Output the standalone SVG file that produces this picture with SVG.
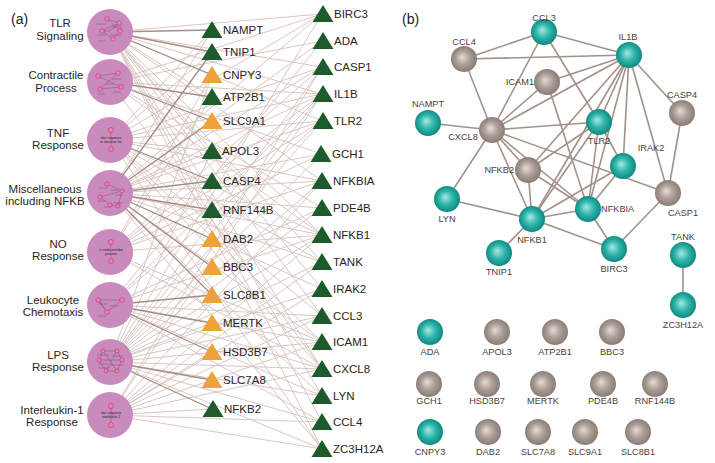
<svg xmlns="http://www.w3.org/2000/svg" width="715" height="463" viewBox="0 0 715 463">
<style>
.lt{stroke:#d9c6c1;stroke-width:1;fill:none}
.dk{stroke:#a58d85;stroke-width:1.3;fill:none}
.pb{stroke:#a3918a;stroke-width:1.6;fill:none}
.pw{fill:#c98bbc}
.mini{stroke:#3a2a30;stroke-width:0.35;fill:none;opacity:0.8}
.mt{stroke:#3a2a30;stroke-width:0.8;opacity:0.35}
.dot{fill:#f27db4;stroke:#c2316f;stroke-width:0.6}
.gr{fill:#1d5b2d}
.or{fill:#eea23b}
.la{font-family:"Liberation Sans",Arial,sans-serif;font-size:11.5px;fill:#2b2422}
.lc{font-family:"Liberation Sans",Arial,sans-serif;font-size:11.5px;fill:#2b2422;text-anchor:middle}
.lb{font-family:"Liberation Sans",Arial,sans-serif;font-size:9.2px;fill:#4d403b;text-anchor:middle}
.tiny{font-family:"Liberation Sans",Arial,sans-serif;font-size:3.4px;fill:#2a2024;text-anchor:middle}
.pn{font-family:"Liberation Sans",Arial,sans-serif;font-size:14px;fill:#222}
</style>
<defs>
<radialGradient id="gT" cx="0.5" cy="0.5" r="0.55" fx="0.42" fy="0.42">
<stop offset="0" stop-color="#a8e9e3"/><stop offset="0.5" stop-color="#2db4a9"/><stop offset="1" stop-color="#0a8177"/>
</radialGradient>
<radialGradient id="gG" cx="0.5" cy="0.5" r="0.55" fx="0.42" fy="0.42">
<stop offset="0" stop-color="#e4ddd9"/><stop offset="0.5" stop-color="#aa9d96"/><stop offset="1" stop-color="#84766f"/>
</radialGradient>
<path id="tri" d="M0,-9 L10.5,8 L-10.5,8 Z"/>
</defs>
<rect width="715" height="463" fill="#ffffff"/>

<text class="pn" x="11" y="24">(a)</text>
<text class="pn" x="402" y="24">(b)</text>

<g id="connectors-a">
<g class="lt">
<line x1="110" y1="32" x2="322" y2="14"/><line x1="110" y1="32" x2="322" y2="67"/><line x1="110" y1="32" x2="322" y2="94"/><line x1="110" y1="32" x2="322" y2="121"/><line x1="110" y1="32" x2="322" y2="181"/><line x1="110" y1="32" x2="322" y2="235"/><line x1="110" y1="32" x2="322" y2="262"/><line x1="110" y1="32" x2="322" y2="289"/><line x1="110" y1="32" x2="322" y2="316"/><line x1="110" y1="32" x2="322" y2="369"/><line x1="110" y1="32" x2="322" y2="396"/><line x1="110" y1="32" x2="322" y2="422"/><line x1="110" y1="32" x2="322" y2="449"/>
<line x1="110" y1="82" x2="322" y2="41"/><line x1="110" y1="82" x2="322" y2="154"/><line x1="110" y1="82" x2="322" y2="208"/><line x1="110" y1="82" x2="322" y2="94"/><line x1="110" y1="82" x2="322" y2="235"/><line x1="110" y1="82" x2="322" y2="369"/><line x1="110" y1="82" x2="322" y2="14"/>
<line x1="110" y1="140" x2="322" y2="14"/><line x1="110" y1="140" x2="322" y2="67"/><line x1="110" y1="140" x2="322" y2="94"/><line x1="110" y1="140" x2="322" y2="181"/><line x1="110" y1="140" x2="322" y2="235"/><line x1="110" y1="140" x2="322" y2="262"/><line x1="110" y1="140" x2="322" y2="316"/><line x1="110" y1="140" x2="322" y2="342"/><line x1="110" y1="140" x2="322" y2="369"/><line x1="110" y1="140" x2="322" y2="449"/><line x1="110" y1="140" x2="322" y2="121"/>
<line x1="110" y1="193" x2="322" y2="41"/><line x1="110" y1="193" x2="322" y2="14"/><line x1="110" y1="193" x2="322" y2="67"/><line x1="110" y1="193" x2="322" y2="94"/><line x1="110" y1="193" x2="322" y2="121"/><line x1="110" y1="193" x2="322" y2="154"/><line x1="110" y1="193" x2="322" y2="181"/><line x1="110" y1="193" x2="322" y2="208"/><line x1="110" y1="193" x2="322" y2="235"/><line x1="110" y1="193" x2="322" y2="262"/><line x1="110" y1="193" x2="322" y2="289"/><line x1="110" y1="193" x2="322" y2="342"/><line x1="110" y1="193" x2="322" y2="396"/><line x1="110" y1="193" x2="322" y2="449"/>
<line x1="110" y1="252" x2="322" y2="154"/><line x1="110" y1="252" x2="322" y2="94"/><line x1="110" y1="252" x2="322" y2="121"/><line x1="110" y1="252" x2="322" y2="235"/><line x1="110" y1="252" x2="322" y2="342"/><line x1="110" y1="252" x2="322" y2="369"/><line x1="110" y1="252" x2="322" y2="67"/><line x1="110" y1="252" x2="322" y2="181"/>
<line x1="110" y1="305" x2="322" y2="316"/><line x1="110" y1="305" x2="322" y2="422"/><line x1="110" y1="305" x2="322" y2="369"/><line x1="110" y1="305" x2="322" y2="94"/><line x1="110" y1="305" x2="322" y2="342"/><line x1="110" y1="305" x2="322" y2="396"/><line x1="110" y1="305" x2="322" y2="121"/><line x1="110" y1="305" x2="322" y2="235"/><line x1="110" y1="305" x2="322" y2="41"/><line x1="110" y1="305" x2="322" y2="208"/>
<line x1="110" y1="362" x2="322" y2="67"/><line x1="110" y1="362" x2="322" y2="94"/><line x1="110" y1="362" x2="322" y2="121"/><line x1="110" y1="362" x2="322" y2="181"/><line x1="110" y1="362" x2="322" y2="235"/><line x1="110" y1="362" x2="322" y2="289"/><line x1="110" y1="362" x2="322" y2="316"/><line x1="110" y1="362" x2="322" y2="342"/><line x1="110" y1="362" x2="322" y2="369"/><line x1="110" y1="362" x2="322" y2="396"/><line x1="110" y1="362" x2="322" y2="422"/><line x1="110" y1="362" x2="322" y2="449"/><line x1="110" y1="362" x2="322" y2="208"/><line x1="110" y1="362" x2="322" y2="262"/><line x1="110" y1="362" x2="322" y2="154"/><line x1="110" y1="362" x2="322" y2="14"/>
<line x1="110" y1="415" x2="322" y2="94"/><line x1="110" y1="415" x2="322" y2="235"/><line x1="110" y1="415" x2="322" y2="289"/><line x1="110" y1="415" x2="322" y2="316"/><line x1="110" y1="415" x2="322" y2="342"/><line x1="110" y1="415" x2="322" y2="449"/><line x1="110" y1="415" x2="322" y2="262"/><line x1="110" y1="415" x2="322" y2="67"/><line x1="110" y1="415" x2="322" y2="369"/><line x1="110" y1="415" x2="322" y2="181"/><line x1="110" y1="415" x2="322" y2="422"/>
<line x1="110" y1="32" x2="212" y2="151"/><line x1="110" y1="32" x2="212" y2="97"/>
<line x1="110" y1="140" x2="212" y2="30"/><line x1="110" y1="140" x2="212" y2="52"/><line x1="110" y1="140" x2="212" y2="151"/>
<line x1="110" y1="193" x2="212" y2="151"/><line x1="110" y1="193" x2="212" y2="30"/>
<line x1="110" y1="252" x2="212" y2="75"/><line x1="110" y1="252" x2="212" y2="97"/>
<line x1="110" y1="362" x2="212" y2="75"/><line x1="110" y1="362" x2="212" y2="151"/><line x1="110" y1="362" x2="212" y2="323"/>
<line x1="110" y1="415" x2="212" y2="409"/><line x1="110" y1="415" x2="212" y2="352"/>
</g>
<g class="dk">
<line x1="110" y1="32" x2="212" y2="30"/><line x1="110" y1="32" x2="212" y2="52"/><line x1="110" y1="32" x2="212" y2="75"/>
<line x1="110" y1="82" x2="212" y2="97"/><line x1="110" y1="82" x2="212" y2="121"/>
<line x1="110" y1="140" x2="212" y2="181"/>
<line x1="110" y1="193" x2="212" y2="52"/><line x1="110" y1="193" x2="212" y2="121"/><line x1="110" y1="193" x2="212" y2="181"/><line x1="110" y1="193" x2="212" y2="210"/><line x1="110" y1="193" x2="212" y2="239"/><line x1="110" y1="193" x2="212" y2="267"/><line x1="110" y1="193" x2="212" y2="295"/>
<line x1="110" y1="305" x2="212" y2="295"/><line x1="110" y1="305" x2="212" y2="323"/><line x1="110" y1="305" x2="212" y2="352"/>
<line x1="110" y1="362" x2="212" y2="380"/><line x1="110" y1="362" x2="212" y2="409"/>
</g>
</g>

<g id="pathway-tlr">
<circle class="pw" cx="110" cy="32" r="23"/>
<path class="mini" d="M107,19 L119,23 L110,31 L102,31 L113,39 L120,31 L107,19 M102,31 L119,23"/>
<path class="mt" d="M96,24 h10 M112,27 h10 M97,35 h9 M110,35 h12 M98,41 h8"/>
<circle class="dot" cx="107" cy="19" r="2.3"/><circle class="dot" cx="119" cy="23" r="2.3"/><circle class="dot" cx="102" cy="31" r="2.3"/><circle class="dot" cx="120" cy="31" r="2.3"/><circle class="dot" cx="113" cy="39" r="2.3"/>
<text class="lc" x="60" y="27">TLR</text><text class="lc" x="60" y="40">Signaling</text>
</g>
<g id="pathway-contractile">
<circle class="pw" cx="110" cy="82" r="23"/>
<path class="mini" d="M98,76 L118,73 L100,89 L121,87 M98,76 L121,87"/>
<path class="mt" d="M112,79 h10 M105,84 h9 M98,94 h8 M113,92 h8"/>
<circle class="dot" cx="98" cy="76" r="2.3"/><circle class="dot" cx="118" cy="73" r="2.3"/><circle class="dot" cx="100" cy="89" r="2.3"/><circle class="dot" cx="121" cy="87" r="2.3"/>
<text class="lc" x="56" y="79">Contractile</text><text class="lc" x="56" y="92">Process</text>
</g>
<g id="pathway-tnf">
<circle class="pw" cx="110" cy="140" r="23"/>
<path class="mini" d="M111,130 L111,149"/>
<circle class="dot" cx="111" cy="130" r="2.6"/><circle class="dot" cx="111" cy="149" r="2.6"/>
<text class="tiny" x="111" y="139">ular response</text><text class="tiny" x="111" y="143">or necrosis fac</text>
<text class="lc" x="58" y="137">TNF</text><text class="lc" x="58" y="149">Response</text>
</g>
<g id="pathway-misc">
<circle class="pw" cx="110" cy="193" r="23"/>
<path class="mini" d="M107,184 L122,191 L100,197 L110,205 L118,206 L122,191"/>
<path class="mt" d="M99,188 h9 M110,190 h8 M115,195 h8 M97,201 h9 M104,207 h7 M114,203 h9"/>
<circle class="dot" cx="107" cy="184" r="2.1"/><circle class="dot" cx="122" cy="191" r="2.1"/><circle class="dot" cx="100" cy="197" r="2.1"/><circle class="dot" cx="110" cy="205" r="2.1"/><circle class="dot" cx="118" cy="206" r="2.1"/>
<text class="lc" x="45" y="193">Miscellaneous</text><text class="lc" x="45" y="205">including NFKB</text>
</g>
<g id="pathway-no">
<circle class="pw" cx="110" cy="252" r="23"/>
<path class="mini" d="M111,242 L111,261"/>
<circle class="dot" cx="111" cy="242" r="2.6"/><circle class="dot" cx="111" cy="261" r="2.6"/>
<text class="tiny" x="111" y="251">ic oxide metabo</text><text class="tiny" x="111" y="255">process</text>
<text class="lc" x="58" y="248">NO</text><text class="lc" x="58" y="260">Response</text>
</g>
<g id="pathway-leukocyte">
<circle class="pw" cx="110" cy="305" r="23"/>
<path class="mini" d="M98,300 L122,300 L107,312 Z M98,300 L107,312"/>
<path class="mt" d="M99,304 h9 M110,306 h9 M97,316 h9"/>
<circle class="dot" cx="98" cy="300" r="2.3"/><circle class="dot" cx="122" cy="300" r="2.3"/><circle class="dot" cx="107" cy="312" r="2.3"/>
<text class="lc" x="53" y="304">Leukocyte</text><text class="lc" x="53" y="316">Chemotaxis</text>
</g>
<g id="pathway-lps">
<circle class="pw" cx="110" cy="362" r="23"/>
<path class="mini" d="M103,351 L117,351 L122,360 L117,371 L106,371 L99,360 Z M103,351 L117,371 M117,351 L106,371 M99,360 L122,360"/>
<path class="mt" d="M97,355 h12 M111,356 h12 M98,364 h10 M110,365 h13 M99,368 h11"/>
<circle class="dot" cx="103" cy="351" r="2"/><circle class="dot" cx="117" cy="351" r="2"/><circle class="dot" cx="99" cy="360" r="2"/><circle class="dot" cx="122" cy="360" r="2"/><circle class="dot" cx="106" cy="371" r="2"/><circle class="dot" cx="117" cy="371" r="2"/>
<text class="lc" x="58" y="359">LPS</text><text class="lc" x="58" y="371">Response</text>
</g>
<g id="pathway-il1">
<circle class="pw" cx="110" cy="415" r="23"/>
<path class="mini" d="M111,406 L111,425"/>
<circle class="dot" cx="111" cy="406" r="2.6"/><circle class="dot" cx="111" cy="425" r="2.6"/>
<text class="tiny" x="111" y="414">ular response</text><text class="tiny" x="111" y="418">interleukin-1</text>
<text class="lc" x="52" y="414">Interleukin-1</text><text class="lc" x="52" y="426">Response</text>
</g>

<g id="genes-col1">
<g id="g1-NAMPT"><use href="#tri" class="gr" x="212" y="30"/><text class="la" x="223" y="34">NAMPT</text></g>
<g id="g1-TNIP1"><use href="#tri" class="gr" x="212" y="52"/><text class="la" x="223" y="56">TNIP1</text></g>
<g id="g1-CNPY3"><use href="#tri" class="or" x="212" y="75"/><text class="la" x="223" y="79">CNPY3</text></g>
<g id="g1-ATP2B1"><use href="#tri" class="gr" x="212" y="97"/><text class="la" x="223" y="101">ATP2B1</text></g>
<g id="g1-SLC9A1"><use href="#tri" class="or" x="212" y="121"/><text class="la" x="223" y="125">SLC9A1</text></g>
<g id="g1-APOL3"><use href="#tri" class="gr" x="212" y="151"/><text class="la" x="222" y="155">APOL3</text></g>
<g id="g1-CASP4"><use href="#tri" class="gr" x="212" y="181"/><text class="la" x="223" y="185">CASP4</text></g>
<g id="g1-RNF144B"><use href="#tri" class="gr" x="212" y="210"/><text class="la" x="223" y="214">RNF144B</text></g>
<g id="g1-DAB2"><use href="#tri" class="or" x="212" y="239"/><text class="la" x="223" y="243">DAB2</text></g>
<g id="g1-BBC3"><use href="#tri" class="or" x="212" y="267"/><text class="la" x="223" y="271">BBC3</text></g>
<g id="g1-SLC8B1"><use href="#tri" class="or" x="212" y="295"/><text class="la" x="223" y="299">SLC8B1</text></g>
<g id="g1-MERTK"><use href="#tri" class="or" x="212" y="323"/><text class="la" x="223" y="327">MERTK</text></g>
<g id="g1-HSD3B7"><use href="#tri" class="or" x="212" y="352"/><text class="la" x="223" y="356">HSD3B7</text></g>
<g id="g1-SLC7A8"><use href="#tri" class="or" x="212" y="380"/><text class="la" x="223" y="384">SLC7A8</text></g>
<g id="g1-NFKB2"><use href="#tri" class="gr" x="213" y="409"/><text class="la" x="224" y="413">NFKB2</text></g>
</g>

<g id="genes-col2">
<g id="g2-BIRC3"><use href="#tri" class="gr" x="323" y="14"/><text class="la" x="334" y="18">BIRC3</text></g>
<g id="g2-ADA"><use href="#tri" class="gr" x="323" y="41"/><text class="la" x="334" y="45">ADA</text></g>
<g id="g2-CASP1"><use href="#tri" class="gr" x="323" y="67"/><text class="la" x="334" y="71">CASP1</text></g>
<g id="g2-IL1B"><use href="#tri" class="gr" x="323" y="94"/><text class="la" x="334" y="98">IL1B</text></g>
<g id="g2-TLR2"><use href="#tri" class="gr" x="323" y="121"/><text class="la" x="334" y="125">TLR2</text></g>
<g id="g2-GCH1"><use href="#tri" class="gr" x="321" y="154"/><text class="la" x="332" y="158">GCH1</text></g>
<g id="g2-NFKBIA"><use href="#tri" class="gr" x="322" y="181"/><text class="la" x="333" y="185">NFKBIA</text></g>
<g id="g2-PDE4B"><use href="#tri" class="gr" x="322" y="208"/><text class="la" x="333" y="212">PDE4B</text></g>
<g id="g2-NFKB1"><use href="#tri" class="gr" x="322" y="235"/><text class="la" x="333" y="239">NFKB1</text></g>
<g id="g2-TANK"><use href="#tri" class="gr" x="322" y="262"/><text class="la" x="333" y="266">TANK</text></g>
<g id="g2-IRAK2"><use href="#tri" class="gr" x="322" y="289"/><text class="la" x="333" y="293">IRAK2</text></g>
<g id="g2-CCL3"><use href="#tri" class="gr" x="322" y="316"/><text class="la" x="333" y="320">CCL3</text></g>
<g id="g2-ICAM1"><use href="#tri" class="gr" x="322" y="342"/><text class="la" x="333" y="346">ICAM1</text></g>
<g id="g2-CXCL8"><use href="#tri" class="gr" x="322" y="369"/><text class="la" x="333" y="373">CXCL8</text></g>
<g id="g2-LYN"><use href="#tri" class="gr" x="322" y="396"/><text class="la" x="333" y="400">LYN</text></g>
<g id="g2-CCL4"><use href="#tri" class="gr" x="322" y="422"/><text class="la" x="333" y="426">CCL4</text></g>
<g id="g2-ZC3H12A"><use href="#tri" class="gr" x="322" y="449"/><text class="la" x="333" y="453">ZC3H12A</text></g>
</g>

<g id="connectors-b" class="pb">
<line x1="544" y1="32" x2="464" y2="59"/>
<line x1="544" y1="32" x2="629" y2="55"/>
<line x1="544" y1="32" x2="492" y2="130"/>
<line x1="544" y1="32" x2="599" y2="122"/>
<line x1="464" y1="59" x2="629" y2="55"/>
<line x1="464" y1="59" x2="492" y2="130"/>
<line x1="629" y1="55" x2="547" y2="82"/>
<line x1="629" y1="55" x2="492" y2="130"/>
<line x1="629" y1="55" x2="682" y2="113"/>
<line x1="629" y1="55" x2="599" y2="122"/>
<line x1="629" y1="55" x2="623" y2="166"/>
<line x1="629" y1="55" x2="668" y2="193"/>
<line x1="629" y1="55" x2="532" y2="219"/>
<line x1="629" y1="55" x2="588" y2="209"/>
<line x1="629" y1="55" x2="528" y2="170"/>
<line x1="492" y1="130" x2="547" y2="82"/>
<line x1="492" y1="130" x2="599" y2="122"/>
<line x1="492" y1="130" x2="428" y2="123"/>
<line x1="492" y1="130" x2="528" y2="170"/>
<line x1="492" y1="130" x2="532" y2="219"/>
<line x1="492" y1="130" x2="588" y2="209"/>
<line x1="492" y1="130" x2="668" y2="193"/>
<line x1="492" y1="130" x2="447" y2="199"/>
<line x1="547" y1="82" x2="588" y2="209"/>
<line x1="682" y1="113" x2="668" y2="193"/>
<line x1="599" y1="122" x2="588" y2="209"/>
<line x1="599" y1="122" x2="623" y2="166"/>
<line x1="599" y1="122" x2="532" y2="219"/>
<line x1="528" y1="170" x2="599" y2="122"/>
<line x1="528" y1="170" x2="532" y2="219"/>
<line x1="528" y1="170" x2="588" y2="209"/>
<line x1="623" y1="166" x2="532" y2="219"/>
<line x1="623" y1="166" x2="588" y2="209"/>
<line x1="532" y1="219" x2="588" y2="209"/>
<line x1="532" y1="219" x2="614" y2="249"/>
<line x1="532" y1="219" x2="447" y2="199"/>
<line x1="532" y1="219" x2="499" y2="253"/>
<line x1="588" y1="209" x2="614" y2="249"/>
<line x1="614" y1="249" x2="668" y2="193"/>
<line x1="683" y1="255" x2="683" y2="305"/>
</g>

<g id="net-CCL3"><circle cx="544" cy="32" r="13" fill="url(#gT)"/><text class="lb" x="544" y="21">CCL3</text></g>
<g id="net-CCL4"><circle cx="464" cy="59" r="13" fill="url(#gG)"/><text class="lb" x="464" y="45">CCL4</text></g>
<g id="net-IL1B"><circle cx="629" cy="55" r="13" fill="url(#gT)"/><text class="lb" x="628" y="40">IL1B</text></g>
<g id="net-ICAM1"><circle cx="547" cy="82" r="13" fill="url(#gG)"/><text class="lb" x="534" y="85" style="text-anchor:end">ICAM1</text></g>
<g id="net-CASP4"><circle cx="682" cy="113" r="13" fill="url(#gG)"/><text class="lb" x="682" y="98">CASP4</text></g>
<g id="net-NAMPT"><circle cx="428" cy="123" r="13" fill="url(#gT)"/><text class="lb" x="428" y="107">NAMPT</text></g>
<g id="net-CXCL8"><circle cx="492" cy="130" r="13" fill="url(#gG)"/><text class="lb" x="463" y="140">CXCL8</text></g>
<g id="net-TLR2"><circle cx="599" cy="122" r="13" fill="url(#gT)"/><text class="lb" x="599" y="144">TLR2</text></g>
<g id="net-IRAK2"><circle cx="623" cy="166" r="13" fill="url(#gT)"/><text class="lb" x="651" y="151">IRAK2</text></g>
<g id="net-NFKB2"><circle cx="528" cy="170" r="13" fill="url(#gG)"/><text class="lb" x="514" y="173" style="text-anchor:end">NFKB2</text></g>
<g id="net-CASP1"><circle cx="668" cy="193" r="13" fill="url(#gG)"/><text class="lb" x="683" y="216">CASP1</text></g>
<g id="net-LYN"><circle cx="447" cy="199" r="13" fill="url(#gT)"/><text class="lb" x="447" y="222">LYN</text></g>
<g id="net-NFKB1"><circle cx="532" cy="219" r="13" fill="url(#gT)"/><text class="lb" x="532" y="243">NFKB1</text></g>
<g id="net-NFKBIA"><circle cx="588" cy="209" r="13" fill="url(#gT)"/><text class="lb" x="601" y="212" style="text-anchor:start">NFKBIA</text></g>
<g id="net-BIRC3"><circle cx="614" cy="249" r="13" fill="url(#gT)"/><text class="lb" x="614" y="272">BIRC3</text></g>
<g id="net-TNIP1"><circle cx="499" cy="253" r="13" fill="url(#gT)"/><text class="lb" x="499" y="275">TNIP1</text></g>
<g id="net-TANK"><circle cx="683" cy="255" r="13" fill="url(#gT)"/><text class="lb" x="683" y="240">TANK</text></g>
<g id="net-ZC3H12A"><circle cx="683" cy="305" r="13" fill="url(#gT)"/><text class="lb" x="683" y="328">ZC3H12A</text></g>

<g id="net-ADA"><circle cx="430" cy="332" r="13" fill="url(#gT)"/><text class="lb" x="430" y="355">ADA</text></g>
<g id="net-APOL3"><circle cx="497" cy="332" r="13" fill="url(#gG)"/><text class="lb" x="497" y="355">APOL3</text></g>
<g id="net-ATP2B1"><circle cx="555" cy="332" r="13" fill="url(#gG)"/><text class="lb" x="555" y="355">ATP2B1</text></g>
<g id="net-BBC3"><circle cx="612" cy="332" r="13" fill="url(#gG)"/><text class="lb" x="612" y="355">BBC3</text></g>
<g id="net-GCH1"><circle cx="429" cy="384" r="13" fill="url(#gG)"/><text class="lb" x="429" y="404">GCH1</text></g>
<g id="net-HSD3B7"><circle cx="487" cy="384" r="13" fill="url(#gG)"/><text class="lb" x="487" y="404">HSD3B7</text></g>
<g id="net-MERTK"><circle cx="543" cy="384" r="13" fill="url(#gG)"/><text class="lb" x="543" y="404">MERTK</text></g>
<g id="net-PDE4B"><circle cx="603" cy="384" r="13" fill="url(#gG)"/><text class="lb" x="603" y="404">PDE4B</text></g>
<g id="net-RNF144B"><circle cx="655" cy="384" r="13" fill="url(#gG)"/><text class="lb" x="655" y="404">RNF144B</text></g>
<g id="net-CNPY3"><circle cx="430" cy="432" r="13" fill="url(#gT)"/><text class="lb" x="430" y="455">CNPY3</text></g>
<g id="net-DAB2"><circle cx="488" cy="432" r="13" fill="url(#gG)"/><text class="lb" x="488" y="455">DAB2</text></g>
<g id="net-SLC7A8"><circle cx="538" cy="432" r="13" fill="url(#gG)"/><text class="lb" x="538" y="455">SLC7A8</text></g>
<g id="net-SLC9A1"><circle cx="585" cy="432" r="13" fill="url(#gG)"/><text class="lb" x="585" y="455">SLC9A1</text></g>
<g id="net-SLC8B1"><circle cx="638" cy="432" r="13" fill="url(#gG)"/><text class="lb" x="638" y="455">SLC8B1</text></g>
</svg>
